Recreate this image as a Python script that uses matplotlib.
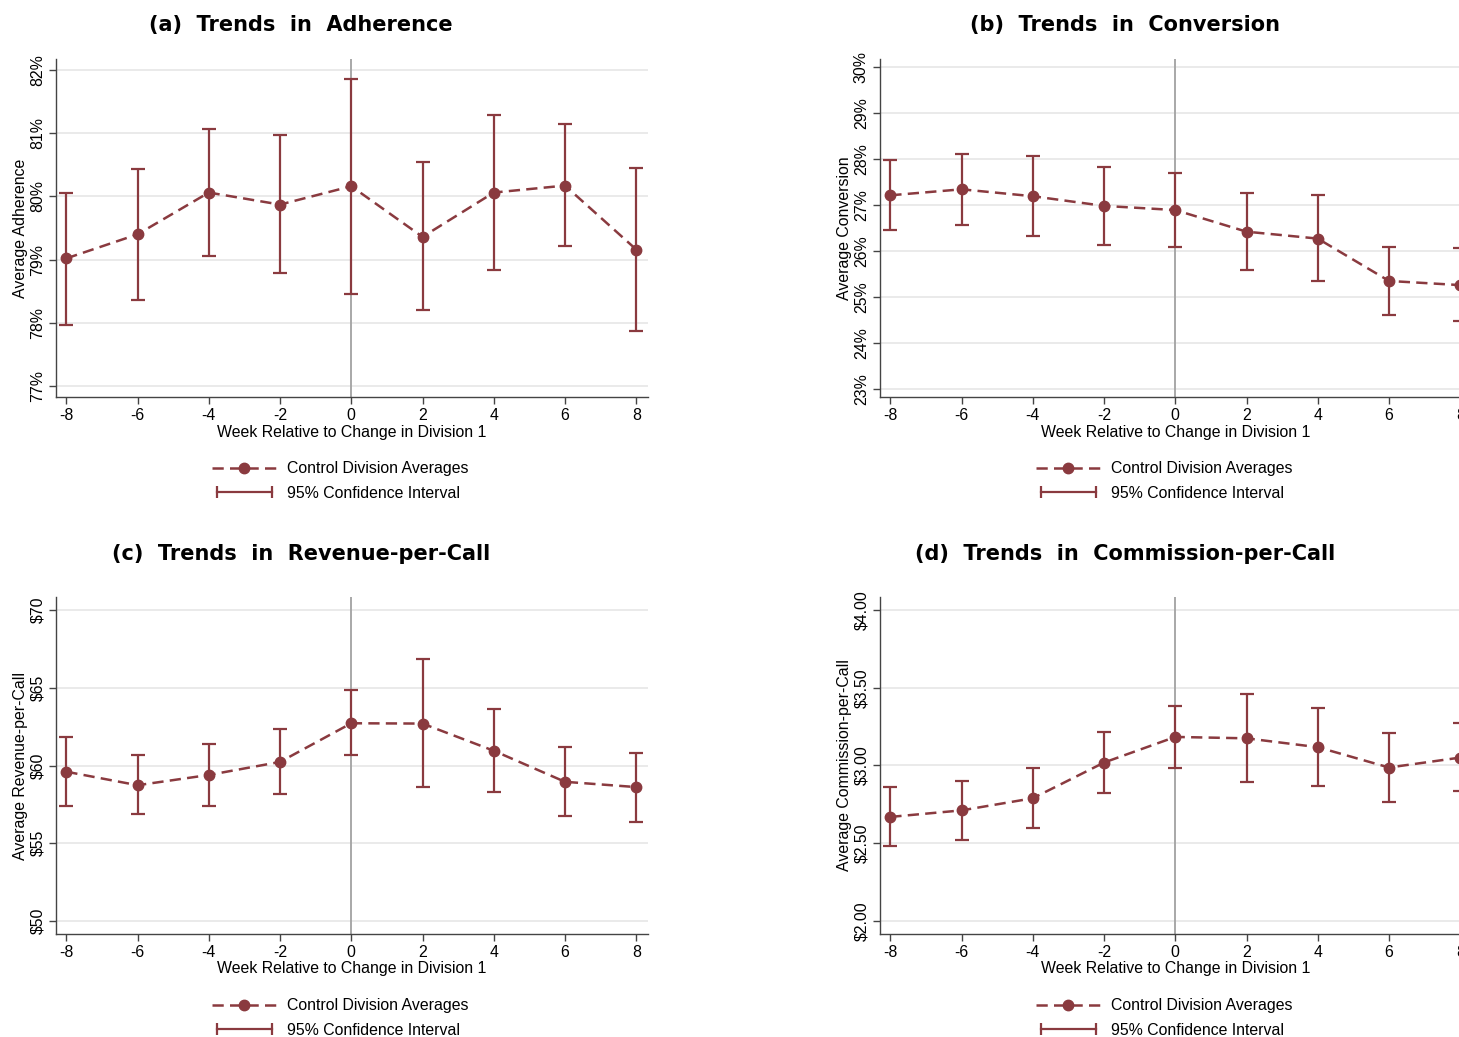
import matplotlib
matplotlib.use("Agg")
import matplotlib.pyplot as plt
from matplotlib.lines import Line2D
from matplotlib.legend_handler import HandlerLine2D
from matplotlib.ticker import FuncFormatter

plt.rcParams['font.family'] = ['Liberation Sans', 'DejaVu Sans']
plt.rcParams['axes.unicode_minus'] = False

weeks = [-8, -6, -4, -2, 0, 2, 4, 6, 8]

adh_mean = [79.02, 79.40, 80.06, 79.87, 80.16, 79.36, 80.06, 80.17, 79.16]
adh_hi = [80.06, 80.44, 81.07, 80.97, 81.86, 80.54, 81.29, 81.14, 80.45]
adh_lo = [77.97, 78.37, 79.06, 78.79, 78.46, 78.20, 78.83, 79.22, 77.87]

conv_mean = [27.21, 27.34, 27.19, 26.98, 26.89, 26.42, 26.27, 25.35, 25.26]
conv_hi = [27.97, 28.11, 28.06, 27.82, 27.70, 27.25, 27.21, 26.09, 26.07]
conv_lo = [26.45, 26.57, 26.32, 26.14, 26.08, 25.58, 25.34, 24.61, 24.47]

rev_mean = [59.60, 58.73, 59.39, 60.23, 62.72, 62.70, 60.95, 58.95, 58.61]
rev_hi = [61.84, 60.65, 61.41, 62.36, 64.83, 66.84, 63.65, 61.18, 60.82]
rev_lo = [57.39, 56.86, 57.39, 58.19, 60.65, 58.59, 58.31, 56.73, 56.39]

com_mean = [2.669, 2.711, 2.789, 3.019, 3.184, 3.175, 3.118, 2.987, 3.051]
com_hi = [2.859, 2.899, 2.983, 3.217, 3.386, 3.462, 3.369, 3.211, 3.272]
com_lo = [2.483, 2.521, 2.599, 2.823, 2.981, 2.892, 2.871, 2.764, 2.833]

panels = [
    ("(a)  Trends  in  Adherence", "Average Adherence", adh_mean, adh_lo, adh_hi,
     [77, 78, 79, 80, 81, 82], lambda v, p: f"{v:.0f}%"),
    ("(b)  Trends  in  Conversion", "Average Conversion", conv_mean, conv_lo, conv_hi,
     [23, 24, 25, 26, 27, 28, 29, 30], lambda v, p: f"{v:.0f}%"),
    ("(c)  Trends  in  Revenue-per-Call", "Average Revenue-per-Call", rev_mean, rev_lo, rev_hi,
     [50, 55, 60, 65, 70], lambda v, p: f"${v:.0f}"),
    ("(d)  Trends  in  Commission-per-Call", "Average Commission-per-Call", com_mean, com_lo, com_hi,
     [2.0, 2.5, 3.0, 3.5, 4.0], lambda v, p: f"${v:.2f}"),
]

color = "#8a3a3f"
W, H = 1459, 1037
fig = plt.figure(figsize=(W / 100, H / 100), dpi=100)

# axes boxes in pixels: left, top, width, height
boxes = [(56, 59, 592, 338), (880, 59, 592, 338), (56, 597, 592, 337), (880, 597, 592, 337)]
title_y = [25, 554]

for i, ((title, ylab, mean, lo, hi, yticks, fmt), (l, t, w, h)) in enumerate(zip(panels, boxes)):
    ax = fig.add_axes([l / W, 1 - (t + h) / H, w / W, h / H])
    step = yticks[1] - yticks[0]
    pad = step * 0.17
    ax.set_ylim(yticks[0] - pad, yticks[-1] + pad)
    ax.set_xlim(-8.29, 8.33)
    ax.set_yticks(yticks)
    ax.set_xticks(weeks)
    ax.yaxis.set_major_formatter(FuncFormatter(fmt))
    ax.grid(axis='y', color='#e6e6e6', linewidth=1.2)
    ax.set_axisbelow(True)
    ax.axvline(0, color='#a8a8a8', linewidth=1.4, zorder=1)

    yerr = [[m - a for m, a in zip(mean, lo)], [b - m for m, b in zip(mean, hi)]]
    ax.errorbar(weeks, mean, yerr=yerr, fmt='none', ecolor=color, elinewidth=1.6,
                capsize=5, capthick=1.6, zorder=3)
    ax.plot(weeks, mean, color=color, linestyle=(0, (4.5, 2.5)), linewidth=1.8,
            marker='o', markersize=7.5, zorder=4)

    for s in ['top', 'right']:
        ax.spines[s].set_visible(False)
    for s in ['left', 'bottom']:
        ax.spines[s].set_color('#444444')
        ax.spines[s].set_linewidth(1.0)
    ax.tick_params(axis='both', direction='out', length=5, width=1.0, color='#444444',
                   labelsize=11.4, pad=3)
    for lab in ax.get_yticklabels():
        lab.set_rotation(90)
        lab.set_va('center')
    ax.set_xlabel("Week Relative to Change in Division 1", fontsize=11.4, labelpad=1)
    ax.set_ylabel(ylab, fontsize=11.4, labelpad=1)
    fig.text((l + 245) / W, 1 - title_y[i // 2] / H, title, fontsize=15, fontweight='bold',
             ha='center', va='center', family=['DejaVu Sans'])

    h1 = Line2D([], [], color=color, linestyle=(0, (4.5, 2.5)), linewidth=1.8,
                marker='o', markersize=7.5)
    h2 = Line2D([], [], color=color, linewidth=1.6, marker='|', markersize=9,
                markeredgewidth=1.6)
    ax.legend([h1, h2], ["Control Division Averages", "95% Confidence Interval"],
              loc='upper center', bbox_to_anchor=(0.48, -0.158), frameon=False,
              fontsize=11.4, handlelength=4.1, handletextpad=0.65, labelspacing=0.58,
              borderpad=0.2,
              handler_map={h1: HandlerLine2D(numpoints=1), h2: HandlerLine2D(numpoints=2)})

fig.savefig("out.png", dpi=100)
